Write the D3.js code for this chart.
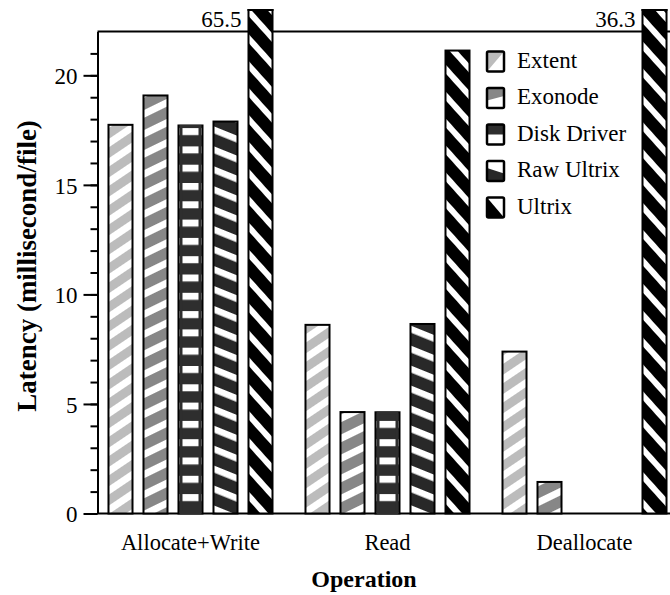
<!DOCTYPE html>
<html>
<head>
<meta charset="utf-8">
<script src="https://cdn.jsdelivr.net/npm/d3@7"></script>
<style>
  html, body { margin: 0; padding: 0; background: #fff; }
  svg { display: block; }
  svg text { font-family: "Liberation Serif", "LiberationSerif", Tinos, "Times New Roman", Times, "Nimbus Roman", "DejaVu Serif", serif !important; fill: #000; }
</style>
</head>
<body>
<svg id="chart" width="670" height="595"></svg>
<script>
// Per-operation latency (millisecond/file) for each storage system
const operations = ["Allocate+Write", "Read", "Deallocate"];
const systems = ["Extent", "Exonode", "Disk Driver", "Raw Ultrix", "Ultrix"];
const extentValues = [17.74, 8.61, 7.39];
const exonodeValues = [19.08, 4.63, 1.44];
const diskDriverValues = [17.71, 4.62, 0];
const rawUltrixValues = [17.89, 8.65, 0];
const ultrixValues = [65.5, 21.13, 36.3];
const majorTicks = [0, 5, 10, 15, 20];
const minorTicks = d3.range(0, 22);
const yMax = 22;

const seriesValues = [extentValues, exonodeValues, diskDriverValues, rawUltrixValues, ultrixValues];

const svg = d3.select("#chart");
const W = 670;
const plotLeft = 97.5, plotBottom = 513.5, plotTop = 31.5;
const serif = '"Liberation Serif", "LiberationSerif", Tinos, "Times New Roman", Times, "Nimbus Roman", "DejaVu Serif", serif';

const y = d3.scaleLinear().domain([0, yMax]).range([plotBottom, plotTop]);
const x0 = d3.scaleBand().domain(operations).range([plotLeft, 677.5])
  .paddingInner(0.1117).paddingOuter(0.0279);
const x1 = d3.scaleBand().domain(systems).range([0, x0.bandwidth()])
  .paddingInner(0.314).paddingOuter(0.157);

// ---- fill patterns: gray/black ground crossed by white stripes ----
const defs = svg.append("defs");
// stripe spec: ground colour, stripe angle (deg), perpendicular period, white thickness
const patternSpecs = [
  { id: "p-extent", ground: "#bcbcbc", angle: -34, period: 16, white: 7 },
  { id: "p-exonode", ground: "#878787", angle: -26, period: 18, white: 7 },
  { id: "p-disk", ground: "#2e2e2e", angle: 0, period: 18.3, white: 7 },
  { id: "p-raw", ground: "#282828", angle: 22, period: 18.5, white: 6.5 },
  { id: "p-ultrix", ground: "#000000", angle: 48, period: 18, white: 6 }
];
patternSpecs.forEach(s => {
  const p = defs.append("pattern")
    .attr("id", s.id)
    .attr("patternUnits", "userSpaceOnUse")
    .attr("width", 40)
    .attr("height", s.period)
    .attr("patternTransform", s.angle ? `rotate(${s.angle})` : null);
  p.append("rect").attr("width", 40).attr("height", s.period).attr("fill", s.ground);
  p.append("rect").attr("x", 0).attr("y", 0).attr("width", 40).attr("height", s.white).attr("fill", "#fff");
});
const patternOf = d3.scaleOrdinal().domain(systems).range(patternSpecs.map(s => `url(#${s.id})`));
const groundOf = d3.scaleOrdinal().domain(systems).range(patternSpecs.map(s => s.ground));

// bars taller than the frame are cut off just above it
defs.append("clipPath").attr("id", "bar-clip")
  .append("rect").attr("x", 0).attr("y", 9).attr("width", W).attr("height", 600);

// ---- frame lines ----
svg.append("line").attr("x1", plotLeft).attr("x2", W).attr("y1", plotTop).attr("y2", plotTop)
  .attr("stroke", "#000").attr("stroke-width", 2);
svg.append("line").attr("x1", plotLeft).attr("x2", W).attr("y1", plotBottom).attr("y2", plotBottom)
  .attr("stroke", "#000").attr("stroke-width", 2);

// ---- y axis: minor and major ticks ----
const minorAxis = d3.axisLeft(y).tickValues(minorTicks).tickSize(7).tickFormat("").tickSizeOuter(0);
const majorAxis = d3.axisLeft(y).tickValues(majorTicks).tickSize(14).tickPadding(6).tickSizeOuter(0);
const gMinor = svg.append("g").attr("transform", `translate(${plotLeft},0)`).call(minorAxis);
const gMajor = svg.append("g").attr("transform", `translate(${plotLeft},0)`).call(majorAxis);
[gMinor, gMajor].forEach(g => {
  g.attr("font-family", serif);
  g.selectAll("path.domain").attr("stroke", "#000").attr("stroke-width", 2);
  g.selectAll(".tick line").attr("stroke", "#000").attr("stroke-width", 2);
});
gMajor.selectAll(".tick text")
  .attr("font-family", serif)
  .attr("font-size", 23).attr("fill", "#000").attr("dy", "0.36em");

// ---- bars ----
const rows = [];
operations.forEach((op, i) => {
  systems.forEach((s, j) => rows.push({ op, sys: s, value: seriesValues[j][i] }));
});
const bw = x1.bandwidth();
const drawn = rows.filter(d => d.value > 0);
const barG = svg.append("g").attr("clip-path", "url(#bar-clip)");
barG.selectAll("rect.bar")
  .data(drawn)
  .join("rect")
  .attr("class", "bar")
  .attr("x", d => x0(d.op) + x1(d.sys))
  .attr("y", d => y(d.value))
  .attr("width", bw)
  .attr("height", d => y(0) - y(d.value))
  .attr("fill", d => patternOf(d.sys))
  .attr("stroke", "#000")
  .attr("stroke-width", 2);
// the horizontal white dashes of the Disk Driver fill stop short of the bar sides
barG.selectAll("rect.inset")
  .data(drawn.filter(d => d.sys === "Disk Driver"))
  .join("rect")
  .attr("class", "inset")
  .attr("x", d => x0(d.op) + x1(d.sys) + 2.5)
  .attr("y", d => y(d.value) + 1)
  .attr("width", bw - 5)
  .attr("height", d => y(0) - y(d.value) - 2)
  .attr("fill", "none")
  .attr("stroke", groundOf("Disk Driver"))
  .attr("stroke-width", 3);

// top edge and value label for the bars that run past the frame
const overflow = rows.filter(d => d.value > yMax);
svg.selectAll("line.cap")
  .data(overflow)
  .join("line")
  .attr("class", "cap")
  .attr("x1", d => x0(d.op) + x1(d.sys) - 1)
  .attr("x2", d => x0(d.op) + x1(d.sys) + bw + 1)
  .attr("y1", 10).attr("y2", 10)
  .attr("stroke", "#000").attr("stroke-width", 2);
svg.selectAll("text.over")
  .data(overflow)
  .join("text")
  .attr("class", "over")
  .attr("x", d => x0(d.op) + x1(d.sys) - 7)
  .attr("y", 27)
  .attr("text-anchor", "end")
  .attr("font-family", serif)
  .attr("font-size", 23)
  .text(d => d3.format(".1f")(d.value));

// ---- category labels and axis titles ----
svg.selectAll("text.cat")
  .data(operations)
  .join("text")
  .attr("class", "cat")
  .attr("x", d => x0(d) + x0.bandwidth() / 2)
  .attr("y", 550)
  .attr("text-anchor", "middle")
  .attr("font-family", serif)
  .attr("font-size", 22.5)
  .text(d => d);

svg.append("text")
  .attr("x", 364).attr("y", 587)
  .attr("text-anchor", "middle")
  .attr("font-family", serif)
  .attr("font-size", 24).attr("font-weight", "bold")
  .text("Operation");

svg.append("text")
  .attr("transform", "translate(36,266) rotate(-90)")
  .attr("text-anchor", "middle")
  .attr("font-family", serif)
  .attr("font-size", 27).attr("font-weight", "bold")
  .text("Latency (millisecond/file)");

// ---- legend ----
const legendY = d3.scalePoint().domain(systems).range([67.5, 213.5]);
const bx = 487, bwL = 17, bhL = 20;
// shape of the filled part inside each key box (fractions of box width/height)
const keyShapes = {
  "Extent": [[0, 0], [1, 0], [0, 1]],
  "Exonode": [[0, 0], [1, 0], [1, 0.4], [0, 0.62]],
  "Disk Driver": [[0, 0], [1, 0], [1, 0.5], [0, 0.5]],
  "Raw Ultrix": [[0, 0.35], [1, 0.62], [1, 1], [0, 1]],
  "Ultrix": [[0, 0], [1, 1], [0, 1]]
};
const lg = svg.append("g");
const item = lg.selectAll("g.key").data(systems).join("g").attr("class", "key")
  .attr("transform", d => `translate(${bx},${legendY(d) - 16})`);
item.append("rect").attr("width", bwL).attr("height", bhL).attr("fill", "#fff");
item.append("polygon")
  .attr("points", d => keyShapes[d].map(p => [p[0] * bwL, p[1] * bhL].join(",")).join(" "))
  .attr("fill", d => groundOf(d));
item.append("rect").attr("width", bwL).attr("height", bhL).attr("fill", "none")
  .attr("stroke", "#000").attr("stroke-width", 2.5).attr("rx", 1.5);
item.append("text")
  .attr("x", 30).attr("y", 16)
  .attr("font-family", serif)
  .attr("font-size", 23)
  .text(d => d);
</script>
</body>
</html>
